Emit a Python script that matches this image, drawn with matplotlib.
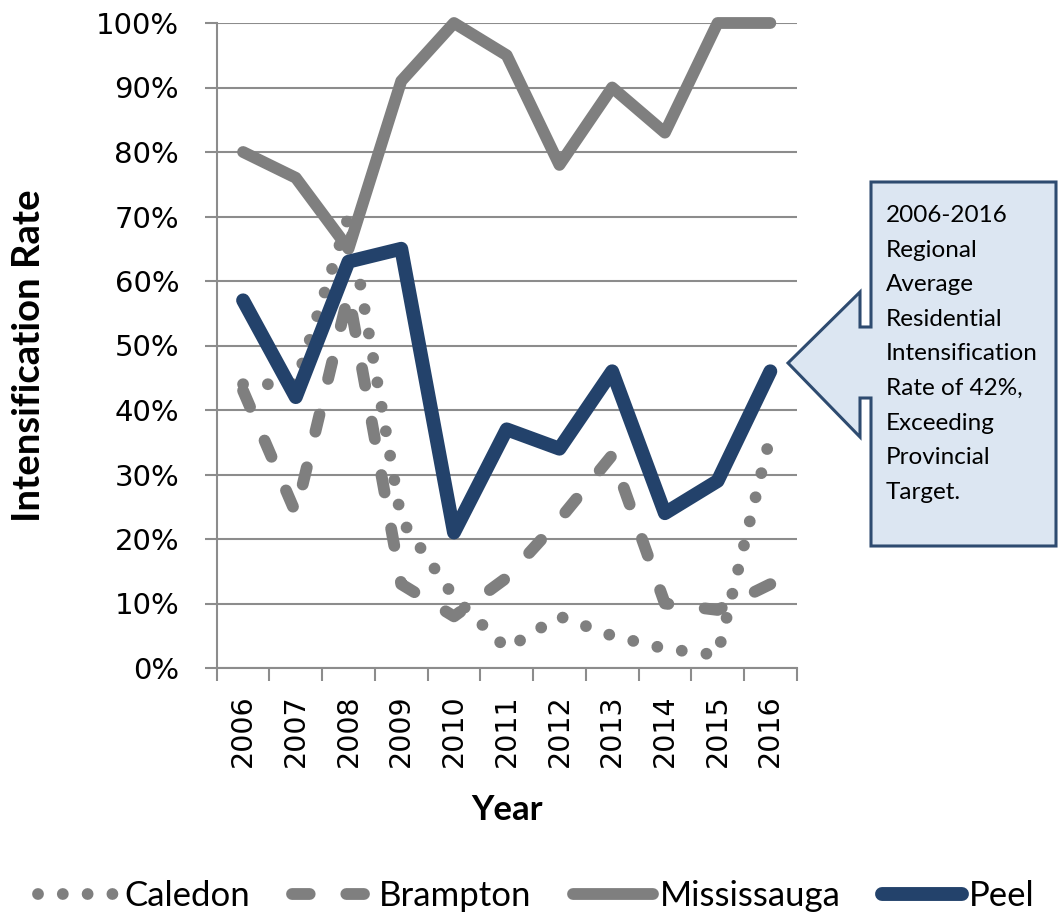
import matplotlib
matplotlib.use("Agg")
import matplotlib.pyplot as plt
from matplotlib.patches import Polygon
from matplotlib.ticker import FixedLocator, FuncFormatter

# Data (percent)
years = ["2006", "2007", "2008", "2009", "2010", "2011",
         "2012", "2013", "2014", "2015", "2016"]
caledon = [44, 44, 70, 23, 11, 3, 8, 5, 3, 2, 36]
brampton = [43, 24, 58, 13, 8, 14, 23, 33, 10, 9, 13]
mississauga = [80, 76, 65, 91, 100, 95, 78, 90, 83, 100, 100]
peel = [57, 42, 63, 65, 21, 37, 34, 46, 24, 29, 46]

callout_text = ("2006-2016\nRegional\nAverage\nResidential\nIntensification\n"
                "Rate of 42%,\nExceeding\nProvincial\nTarget.")

W, H = 1058, 915
GRAY = "#7f7f7f"
NAVY = "#23426b"
GRID = "#8c8c8c"

plt.rcParams["font.family"] = ["DejaVu Sans"]

fig = plt.figure(figsize=(W / 100, H / 100), dpi=100)
ax = fig.add_axes([216.7 / W, 1 - 668 / H, 580 / W, 645 / H])

x = range(len(years))
common = dict(solid_capstyle="round", dash_capstyle="round",
              solid_joinstyle="round", dash_joinstyle="round", clip_on=False)
ax.plot(x, caledon, color=GRAY, lw=8.5, linestyle=(0, (0.001, 2.1)),
        label="Caledon", **common)
ax.plot(x, brampton, color=GRAY, lw=8.5, linestyle=(0, (1.5, 3.1)),
        label="Brampton", **common)
ax.plot(x, mississauga, color=GRAY, lw=8.5, label="Mississauga", **common)
ax.plot(x, peel, color=NAVY, lw=10, label="Peel", **common)

# axes
ax.set_xlim(-0.5, len(years) - 0.5)
ax.set_ylim(0, 100)
ax.xaxis.set_major_locator(FixedLocator([i - 0.5 for i in range(len(years) + 1)]))
ax.xaxis.set_major_formatter(FuncFormatter(lambda v, p: ""))
ax.xaxis.set_minor_locator(FixedLocator(list(x)))
ax.set_xticklabels(years, minor=True, rotation=90, fontsize=20.5)
ax.tick_params(axis="x", which="major", length=9, width=1.5, color=GRID)
ax.tick_params(axis="x", which="minor", length=0, pad=19)

ax.set_yticks(range(0, 101, 10))
ax.yaxis.set_major_formatter(FuncFormatter(lambda v, p: f"{v:.0f}%"))
ax.tick_params(axis="y", length=9, width=1.5, color=GRID, pad=18, labelsize=21)
ax.grid(axis="y", color=GRID, lw=1.5)
ax.set_axisbelow(True)

for s in ["top", "right"]:
    ax.spines[s].set_visible(False)
for s in ["left", "bottom"]:
    ax.spines[s].set_color(GRID)
    ax.spines[s].set_linewidth(1.5)

ax.set_ylabel("Intensification Rate", family="Lato", fontweight="bold", fontsize=27.5)
ax.yaxis.set_label_coords((46 - 216.7) / 580, (668 - 356) / 645)
ax.set_xlabel("Year", family="Lato", fontweight="bold", fontsize=25)
ax.xaxis.set_label_coords((507 - 216.7) / 580, (668 - 794) / 645)

# left-pointing callout
pts = [(871, 182), (1056, 182), (1056, 546), (871, 546), (871, 398),
       (860, 398), (860, 437), (788, 363), (860, 292), (860, 327), (871, 327)]
poly = Polygon([(px / W, 1 - py / H) for px, py in pts], closed=True,
               transform=fig.transFigure, facecolor="#dce6f2",
               edgecolor="#2e4b70", lw=2.2, joinstyle="miter")
fig.patches.append(poly)
fig.text(886 / W, 1 - 205 / H, callout_text, family="Lato", fontsize=17.5,
         va="top", ha="left", linespacing=1.8)

fig.legend(loc="center", bbox_to_anchor=(0.507, 1 - 896 / H), ncol=4,
           frameon=False, prop={"family": "Lato", "size": 25},
           handlelength=2.3, handletextpad=0.2, columnspacing=1.2,
           borderaxespad=0)

fig.savefig("out.png", dpi=100)
